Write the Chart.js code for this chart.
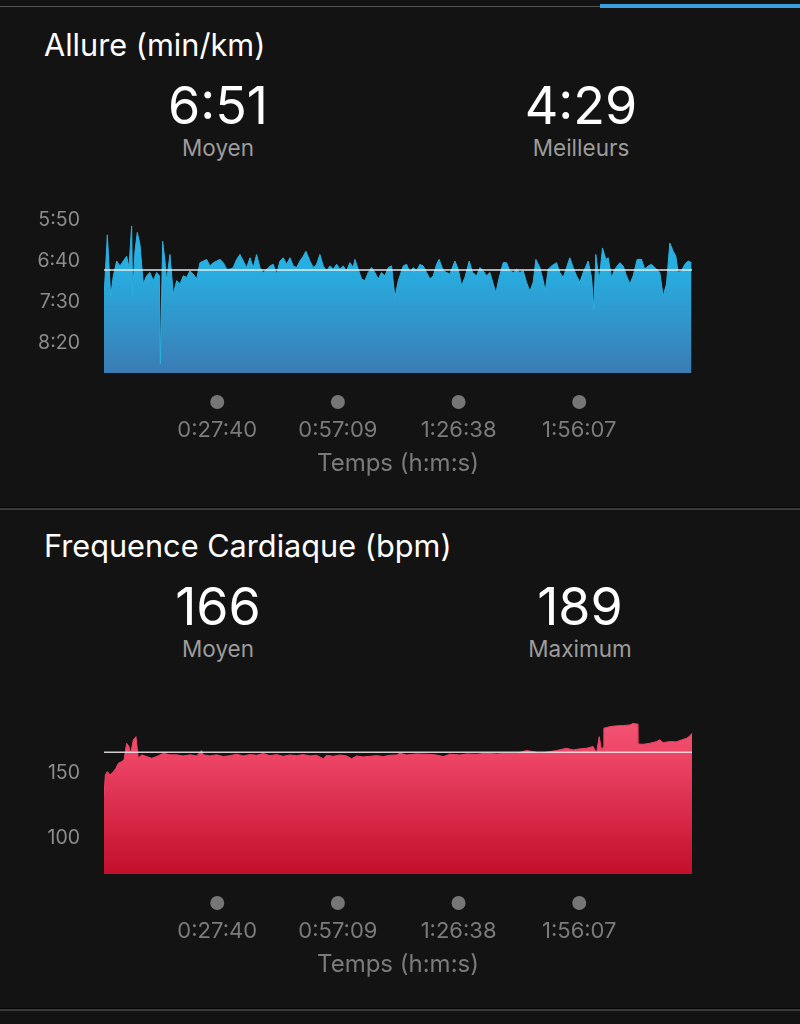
<!DOCTYPE html>
<html><head><meta charset="utf-8">
<script src="https://cdn.jsdelivr.net/npm/chart.js@4/dist/chart.umd.min.js"></script>
<style>
html,body{margin:0;padding:0;background:#131313;width:800px;height:1024px;overflow:hidden;font-family:Inter,"Liberation Sans",sans-serif;}
.abs{position:absolute;white-space:nowrap;line-height:1;}
.title{left:44px;font-size:30.7px;color:#fff;}
.num{width:240px;text-align:center;font-size:52px;color:#fff;}
.lbl{width:240px;text-align:center;font-size:22.5px;color:#9c9c9c;}
canvas{position:absolute;left:0;}
</style></head><body>
<div class="abs" style="left:0;top:6px;width:800px;height:1px;background:#555"></div>
<div class="abs" style="left:600px;top:4px;width:200px;height:4px;background:#3b9ede"></div>

<div class="abs title" style="top:29.5px">Allure (min/km)</div>
<div class="abs num" style="left:98px;top:80px">6:51</div>
<div class="abs lbl" style="left:98px;top:136.6px">Moyen</div>
<div class="abs num" style="left:461px;top:80px">4:29</div>
<div class="abs lbl" style="left:461px;top:136.6px">Meilleurs</div>
<canvas id="pace" width="800" height="300" style="top:190px"></canvas>
<div class="abs" style="left:0;top:507px;width:800px;height:1px;background:#050505"></div>
<div class="abs" style="left:0;top:508px;width:800px;height:2px;background:#3a3a3a"></div>

<div class="abs title" style="top:530.8px">Frequence Cardiaque (bpm)</div>
<div class="abs num" style="left:98px;top:581px">166</div>
<div class="abs lbl" style="left:98px;top:637.6px">Moyen</div>
<div class="abs num" style="left:460px;top:581px">189</div>
<div class="abs lbl" style="left:460px;top:637.6px">Maximum</div>
<canvas id="hr" width="800" height="300" style="top:691px"></canvas>
<div class="abs" style="left:0;top:1008px;width:800px;height:1px;background:#050505"></div>
<div class="abs" style="left:0;top:1009px;width:800px;height:2px;background:#3a3a3a"></div>

<script>
// ---- data (time in seconds) ----
const paceTimes = [0,49,98,137,186,234,283,332,366,405,420,454,488,528,576,625,674,723,772,811,826,860,894,918,967,1016,1065,1114,1163,1211,1260,1309,1358,1407,1456,1505,1553,1602,1651,1700,1749,1798,1847,1895,1944,1993,2042,2091,2140,2188,2237,2286,2335,2384,2433,2481,2530,2579,2628,2677,2726,2774,2823,2872,2921,2960,3019,3068,3117,3165,3214,3263,3312,3361,3410,3458,3507,3556,3605,3654,3678,3727,3776,3825,3874,3923,3971,4020,4069,4118,4167,4216,4265,4314,
4387,4436,4485,4533,4582,4631,4680,4729,4778,4827,4875,4914,4973,5022,5071,5144,5193,5242,5291,5354,5403,5462,5510,5559,5608,5657,5706,5745,5794,5852,5901,5950,5999,6048,6097,6145,6194,6243,6292,6331,6390,6439,6468,6512,6561,6634,6683,6732,6781,6829,6878,6927,6976,7025,7098,7147,7181,7210,7259,7308,7357,7391,7440,7489,7562,7611,7660,7709,7758,7816,7880,7928,7977,8026,8075,8148,8197,8246,8295,8344,8383,8417,8466,8515,8564,8613];
// pace in seconds per km
const paceValues = [445,368,443,418,400,406,400,394,408,357,441,388,365,380,428,418,414,424,414,418,526,376,400,424,392,441,424,428,418,420,412,416,422,402,400,398,406,402,400,398,402,410,410,408,398,392,400,408,396,408,392,408,414,410,406,404,416,400,396,404,396,406,408,400,394,388,400,408,404,392,406,412,406,410,404,410,406,412,402,408,398,410,422,424,414,408,414,422,414,418,408,406,445,424,
406,404,414,408,412,404,406,414,422,418,404,398,412,414,416,400,410,430,420,400,414,418,408,412,418,414,428,439,420,402,402,412,414,410,414,412,426,437,426,398,408,424,437,410,406,402,414,420,408,396,408,418,426,414,400,420,459,392,424,384,398,396,420,410,402,406,418,428,418,398,398,410,406,404,408,414,443,428,378,388,394,414,412,404,400,402];
const hrTimes = [0,20,49,88,137,176,210,259,293,332,366,391,430,469,503,552,625,699,772,870,967,1065,1163,1260,1358,1431,1456,1553,1651,1749,1846,1944,2042,2140,2237,2335,2433,2530,2628,2726,2823,2921,3019,3117,3214,3263,3361,3458,3556,3630,3703,3800,3898,3996,4094,4191,4289,4338,4436,4582,4729,4875,4973,5071,5217,5315,5462,5608,5755,5901,6048,6194,6292,6390,6536,6634,6781,6878,6976,7074,7171,7220,7259,7294,7320,7328,7416,7513,7611,7709,7758,7797,7820,7826,7904,8002,8099,8148,8197,8295,8393,8466,8539,8588,8620];
const hrValues = [132,148.5,151,148.5,151,153.6,157.4,158.7,160,172.8,170.3,165.1,175.4,177.9,161.3,163.9,162.6,161.3,162.6,165.1,163.9,163.9,163.1,163.9,163.1,167.2,163.9,163.1,163.9,162.6,163.3,164.4,163.1,164.1,163.6,164.9,163.3,164.1,162.8,163.8,163.3,164.1,163.1,163.6,161,163.6,162.8,163.8,163.1,161,163.1,162.3,162.8,163.3,162.6,163.6,163.8,165.1,163.8,164.6,164.4,163.8,162.6,164.4,163.8,164.6,164.4,165.1,164.6,165.1,165.1,167.2,166.4,165.1,166.4,167.2,169,167.7,168.5,169,170.3,165.1,177.9,167.7,170,184.4,185.6,186.2,186.4,186.9,188.2,187.7,187.7,172.3,172,172.8,174.1,175.4,173.3,174.1,173.9,175.4,176.6,178.4,180.5];
const timeTicks = [1660, 3429, 5198, 6967];
const paceTicks = [350, 400, 450, 500];
const hrTicks = [100, 150];
const paceAvg = 411;
const hrAvg = 166;
const timeMax = 8620;
const paceRange = [329, 537];
const hrRange = [72.3, 203];

const FONT = 'Inter, "Liberation Sans", sans-serif';
const two = n => String(n).padStart(2, '0');
const fmtPace = v => Math.floor(v / 60) + ':' + two(Math.round(v % 60));
const fmtTime = v => Math.floor(v / 3600) + ':' + two(Math.floor((v % 3600) / 60)) + ':' + two(Math.round(v % 60));

const dotsPlugin = {
  id: 'dots',
  afterDraw(chart) {
    const s = chart.scales.x, ctx = chart.ctx;
    ctx.save();
    ctx.fillStyle = '#767676';
    s.ticks.forEach(t => {
      const x = s.getPixelForValue(t.value);
      ctx.beginPath();
      ctx.arc(x, chart.chartArea.bottom + 29, 7, 0, Math.PI * 2);
      ctx.fill();
    });
    ctx.restore();
  }
};

function makeChart(id, times, values, avg, range, reverse, yTicks, yFmt, stops, edge, avgColor) {
  const [yMin, yMax] = range;
  return new Chart(document.getElementById(id), {
    type: 'line',
    data: {
      datasets: [
        { data: [{x: 0, y: avg}, {x: timeMax, y: avg}], borderColor: avgColor, borderWidth: 1.5,
          pointRadius: 0, fill: false, order: 0 },
        { data: times.map((t, i) => ({x: t, y: values[i]})), borderColor: edge, borderWidth: 1,
          pointRadius: 0, tension: 0, order: 1,
          fill: {value: reverse ? yMax : yMin},
          backgroundColor: c => {
            const a = c.chart.chartArea;
            if (!a) return stops[0][1];
            const g = c.chart.ctx.createLinearGradient(0, a.top, 0, a.bottom);
            stops.forEach(s => g.addColorStop(s[0], s[1]));
            return g;
          } }
      ]
    },
    options: {
      responsive: false, animation: false,
      layout: {padding: {top: 13, right: 108, left: 0, bottom: 0}},
      plugins: {legend: {display: false}, tooltip: {enabled: false}},
      scales: {
        x: {
          type: 'linear', min: 0, max: timeMax,
          grid: {display: false, drawTicks: false}, border: {display: false},
          afterBuildTicks: s => { s.ticks = timeTicks.map(v => ({value: v})); },
          afterFit: s => { s.height = 117; s.paddingLeft = 0; s.paddingRight = 0; },
          ticks: {color: '#7b7b7b', font: {family: FONT, size: 22}, padding: 44, maxRotation: 0,
                  autoSkip: false, callback: v => fmtTime(v)},
          title: {display: true, text: 'Temps (h:m:s)', color: '#7b7b7b',
                  font: {family: FONT, size: 24}, padding: {top: 0, bottom: 11.5}}
        },
        y: {
          type: 'linear', min: yMin, max: yMax, reverse: reverse,
          grid: {display: false, drawTicks: false}, border: {display: false},
          afterBuildTicks: s => { s.ticks = yTicks.map(v => ({value: v})); },
          afterFit: s => { s.width = 104; s.paddingTop = 0; s.paddingBottom = 0; },
          ticks: {color: '#8c8c8c', font: {family: FONT, size: 19.5}, padding: 24, callback: v => yFmt(v)}
        }
      }
    },
    plugins: [dotsPlugin]
  });
}

makeChart('pace', paceTimes, paceValues, paceAvg, paceRange, true, paceTicks, fmtPace,
  [[0, '#27b8ea'], [0.4, '#28ade0'], [1, '#3a7cb4']], '#2bb0e2', 'rgba(235,240,245,0.95)');
makeChart('hr', hrTimes, hrValues, hrAvg, hrRange, false, hrTicks, v => String(v),
  [[0, '#f65c7c'], [0.3, '#ee4566'], [1, '#c20f2c']], '#ec4565', 'rgba(235,225,228,0.9)');
</script>
</body></html>
